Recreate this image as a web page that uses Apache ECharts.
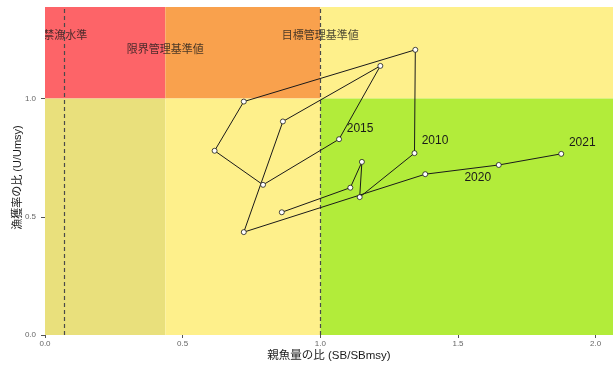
<!DOCTYPE html>
<html><head><meta charset="utf-8">
<script src="https://cdn.jsdelivr.net/npm/echarts@6/dist/echarts.min.js"></script>
<style>html,body{margin:0;padding:0;background:#fff}#c{width:614px;height:365px}</style>
</head><body><div id="c"></div>
<script>
// ---- data ----
const years   = [2006, 2007, 2008, 2009, 2010, 2011, 2012, 2013, 2014, 2015, 2016, 2017, 2018, 2019, 2020, 2021];
const sbRatio = [0.860, 1.109, 1.151, 1.143, 1.342, 1.345, 0.722, 0.616, 0.792, 1.068, 1.218, 0.864, 0.722, 1.381, 1.648, 1.875];
const uRatio  = [0.519, 0.623, 0.732, 0.583, 0.769, 1.206, 0.987, 0.779, 0.635, 0.828, 1.138, 0.903, 0.435, 0.680, 0.719, 0.766];
const labeledYears = [2010, 2015, 2020, 2021];
const refNames  = ['禁漁水準', '限界管理基準値', '目標管理基準値'];
const refValues = [0.074, 0.437, 1.0];
const uRef = 1.0;
const xTicks = [0, 0.5, 1.0, 1.5, 2.0];
const yTicks = [0, 0.5, 1.0];
const xTitle = '親魚量の比 (SB/SBmsy)';
const yTitle = '漁獲率の比 (U/Umsy)';

// ---- chart ----
const X_MAX = 2.063, Y_MAX = 1.387;
const FONT = '"Liberation Sans", "Noto Sans CJK JP", sans-serif';
const labelOffsets = {2010: [20.5, -12], 2015: [21, -11], 2020: [-21, 13], 2021: [21, -11]};

const chart = echarts.init(document.getElementById('c'), null, {renderer: 'canvas'});

const pts = years.map((y, i) => {
  const item = {value: [sbRatio[i], uRatio[i]], year: y};
  if (labeledYears.includes(y)) {
    item.label = {show: true, formatter: String(y), position: 'inside', offset: labelOffsets[y],
      color: '#1a1a1a', fontSize: 12, fontFamily: FONT};
  }
  return item;
});

const C = {red: '#FD6468', orange: '#F9A14D', yellow: '#FEF08B', olive: '#E9E07C', green: '#B2EC3A'};
const limX = refValues[1], tgtX = refValues[2];
const areas = [
  [{coord: [0, uRef], itemStyle: {color: C.red}}, {coord: [limX, Y_MAX]}],
  [{coord: [limX, uRef], itemStyle: {color: C.orange}}, {coord: [tgtX, Y_MAX]}],
  [{coord: [tgtX, uRef], itemStyle: {color: C.yellow}}, {coord: [X_MAX, Y_MAX]}],
  [{coord: [0, 0], itemStyle: {color: C.olive}}, {coord: [limX, uRef]}],
  [{coord: [limX, 0], itemStyle: {color: C.yellow}}, {coord: [tgtX, uRef]}],
  [{coord: [tgtX, 0], itemStyle: {color: C.green}}, {coord: [X_MAX, uRef]}]
];

const refLabelY = [1.265, 1.206, 1.265];

chart.setOption({
  animation: false,
  backgroundColor: '#fff',
  grid: {left: 45, right: 1, top: 7, bottom: 30, containLabel: false, outerBoundsMode: 'none'},
  xAxis: {
    type: 'value', min: 0, max: X_MAX,
    name: xTitle, nameLocation: 'middle', nameGap: 15, nameMoveOverlap: false,
    nameTextStyle: {fontSize: 11.5, color: '#1a1a1a', fontFamily: FONT},
    axisLine: {show: false}, splitLine: {show: false},
    axisTick: {show: true, length: 3, lineStyle: {color: '#555'}, customValues: xTicks},
    axisLabel: {customValues: xTicks, formatter: v => v.toFixed(1), fontSize: 8, color: '#666', margin: 5, fontFamily: FONT}
  },
  yAxis: {
    type: 'value', min: 0, max: Y_MAX,
    name: yTitle, nameLocation: 'middle', nameGap: 22, nameMoveOverlap: false,
    nameTextStyle: {fontSize: 11, color: '#1a1a1a', fontFamily: FONT, padding: [0, 13, 0, 0]},
    axisLine: {show: false}, splitLine: {show: false},
    axisTick: {show: true, length: 4, lineStyle: {color: '#555'}, customValues: yTicks},
    axisLabel: {customValues: yTicks, formatter: v => v.toFixed(1), fontSize: 8, color: '#666', margin: 9, fontFamily: FONT}
  },
  series: [
    {
      type: 'scatter', data: [], z: 1, silent: true,
      markArea: {silent: true, data: areas}
    },
    {
      type: 'scatter', data: [], z: 2, silent: true,
      markLine: {silent: true, symbol: 'none', label: {show: false},
        lineStyle: {color: '#4a4a4a', type: [4, 3], width: 1.2},
        data: [{xAxis: refValues[0]}, {xAxis: refValues[2]}]}
    },
    {
      type: 'scatter', z: 3, silent: true, symbolSize: 0, clip: false,
      data: refNames.map((n, i) => ({value: [refValues[i], refLabelY[i]], name: n})),
      label: {show: true, position: 'inside', formatter: p => p.name, color: '#1a1a1a', fontSize: 11, fontFamily: FONT}
    },
    {
      type: 'line', z: 5, data: pts,
      symbol: 'circle', symbolSize: 5, showAllSymbol: true,
      lineStyle: {color: '#1a1a1a', width: 1},
      itemStyle: {color: '#fff', borderColor: '#1a1a1a', borderWidth: 0.8},
      label: {show: false}
    }
  ],
  graphic: [
    {type: 'rect', shape: {x: 0, y: 20, width: 45, height: 35}, style: {fill: '#fff'}, z: 100, zlevel: 1}
  ]
});
</script></body></html>
